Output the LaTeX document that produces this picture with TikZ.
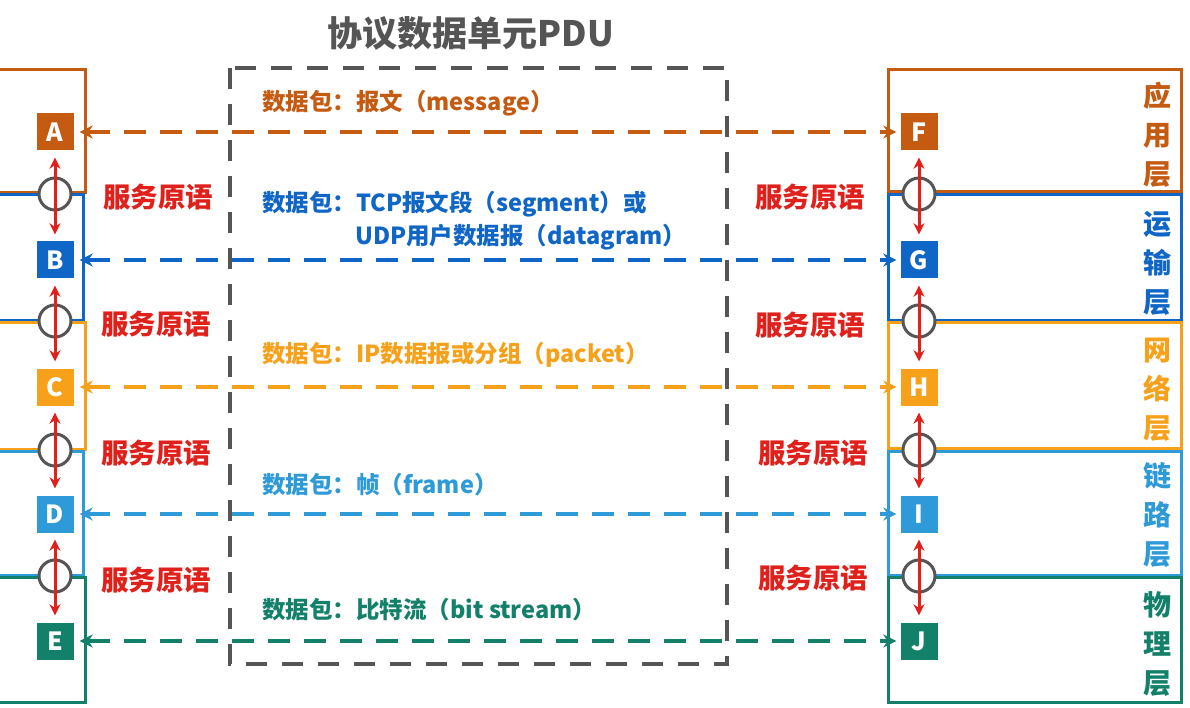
\documentclass[tikz,border=0pt]{standalone}
\usepackage{fontspec}
\setmainfont{Noto Sans CJK SC}
\usetikzlibrary{arrows.meta}
\definecolor{cA}{HTML}{C55A11}
\definecolor{cB}{HTML}{0F66C6}
\definecolor{cC}{HTML}{F7A11A}
\definecolor{cD}{HTML}{2E9AD8}
\definecolor{cE}{HTML}{13806A}
\definecolor{cR}{HTML}{E0201B}
\definecolor{cG}{HTML}{555555}
\tikzset{
  sq/.style={minimum size=37pt, inner sep=0pt, text=white, font=\fontsize{25}{28}\selectfont\bfseries},
  layerbox/.style={line width=3pt},
  ring/.style={circle, draw=cG, line width=3pt, fill=white, minimum size=32pt, inner sep=0pt},
  redarr/.style={draw=cR, line width=3pt, {Stealth[length=11pt,width=11pt]}-{Stealth[length=11pt,width=11pt]}, shorten <=7pt, shorten >=7pt},
  pdu/.style={line width=4pt, dash pattern=on 22pt off 14pt, {Stealth[length=13pt,width=13pt]}-{Stealth[length=13pt,width=13pt]}, shorten <=6pt, shorten >=4pt},
  lbl/.style={anchor=west, inner sep=0pt, font=\fontsize{23.5}{28}\selectfont\bfseries},
  prim/.style={inner sep=0pt, text=cR, font=\fontsize{27.5}{30}\selectfont\bfseries},
  vlab/.style={inner sep=0pt, align=center, font=\fontsize{28}{39}\selectfont\bfseries},
}
\begin{document}
\begin{tikzpicture}[x=1pt,y=-1pt]
\useasboundingbox (0,0) rectangle (1190,708);
\fill[white] (0,0) rectangle (1190,708);
% title
\node[inner sep=0pt, text=cG, font=\fontsize{35}{38}\selectfont\bfseries] (title) at (471,33) {协议数据单元PDU};
% PDU dashed box
\draw[cG, line width=4pt, dash pattern=on 21pt off 15pt] (230,68) rectangle (727,664);
% left layer boxes
\draw[layerbox, cA] (-10,70) -- (85,70) -- (85,193) -- (-10,193);
\draw[layerbox, cB] (-10,195) -- (83,195) -- (83,320) -- (-10,320);
\draw[layerbox, cC] (-10,322) -- (85,322) -- (85,449) -- (-10,449);
\draw[layerbox, cD] (-10,451) -- (83,451) -- (83,575) -- (-10,575);
\draw[layerbox, cE] (-10,577) -- (85,577) -- (85,702) -- (-10,702);
% right layer boxes
\draw[layerbox, cA] (888,70) rectangle (1181,192);
\draw[layerbox, cB] (888,195) rectangle (1181,320);
\draw[layerbox, cC] (888,322) rectangle (1181,448);
\draw[layerbox, cD] (888,451) rectangle (1181,575);
\draw[layerbox, cE] (888,577) rectangle (1181,702);
% layer names
\node[vlab, text=cA] (nA) at (1157,135) {应\\用\\层};
\node[vlab, text=cB] (nB) at (1157,263) {运\\输\\层};
\node[vlab, text=cC] (nC) at (1157,390) {网\\络\\层};
\node[vlab, text=cD] (nD) at (1157,515) {链\\路\\层};
\node[vlab, text=cE] (nE) at (1157,644) {物\\理\\层};
% squares
\node[sq, fill=cA] (A) at (55,132) {A};
\node[sq, fill=cB] (B) at (55,260) {B};
\node[sq, fill=cC] (C) at (55,387) {C};
\node[sq, fill=cD] (D) at (55,514) {D};
\node[sq, fill=cE] (E) at (55,641) {E};
\node[sq, fill=cA] (F) at (919,132) {F};
\node[sq, fill=cB] (G) at (919,260) {G};
\node[sq, fill=cC] (H) at (919,387) {H};
\node[sq, fill=cD] (I) at (919,514) {I};
\node[sq, fill=cE] (J) at (919,641) {J};
% rings
\node[ring] (r1) at (55,194) {};
\node[ring] (r2) at (55,321) {};
\node[ring] (r3) at (55,450) {};
\node[ring] (r4) at (55,576) {};
\node[ring] (s1) at (919,194) {};
\node[ring] (s2) at (919,321) {};
\node[ring] (s3) at (919,450) {};
\node[ring] (s4) at (919,576) {};
% red primitive arrows
\draw[redarr] (A.south) -- (B.north);
\draw[redarr] (B.south) -- (C.north);
\draw[redarr] (C.south) -- (D.north);
\draw[redarr] (D.south) -- (E.north);
\draw[redarr] (F.south) -- (G.north);
\draw[redarr] (G.south) -- (H.north);
\draw[redarr] (H.south) -- (I.north);
\draw[redarr] (I.south) -- (J.north);
% primitive labels
\node[prim] (p1) at (158,197) {服务原语};
\node[prim] (p2) at (156,324) {服务原语};
\node[prim] (p3) at (156,453) {服务原语};
\node[prim] (p4) at (156,580) {服务原语};
\node[prim] (q1) at (810,197) {服务原语};
\node[prim] (q2) at (810,325) {服务原语};
\node[prim] (q3) at (813,453) {服务原语};
\node[prim] (q4) at (813,578) {服务原语};
% peer dashed arrows
\draw[pdu, cA] (A.east) -- (F.west);
\draw[pdu, cB] (B.east) -- (G.west);
\draw[pdu, cC] (C.east) -- (H.west);
\draw[pdu, cD] (D.east) -- (I.west);
\draw[pdu, cE] (E.east) -- (J.west);
% PDU labels
\node[lbl, text=cA] (l1) at (262,103) {数据包：报文（message）};
\node[lbl, text=cB] (l2) at (262,204) {数据包：TCP报文段（segment）或};
\node[lbl, text=cB] (l2b) at (355,237) {UDP用户数据报（datagram）};
\node[lbl, text=cC] (l3) at (262,355) {数据包：IP数据报或分组（packet）};
\node[lbl, text=cD] (l4) at (262,485) {数据包：帧（frame）};
\node[lbl, text=cE] (l5) at (262,610) {数据包：比特流（bit stream）};
\end{tikzpicture}
\end{document}
